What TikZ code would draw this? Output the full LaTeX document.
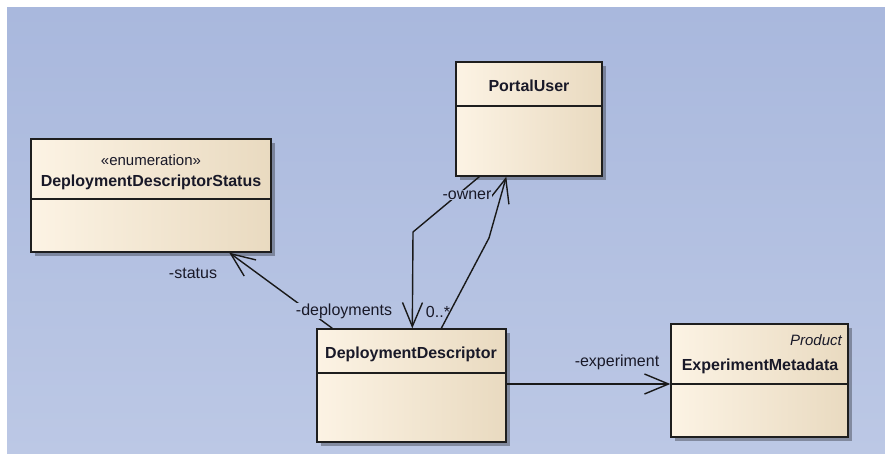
\documentclass[tikz,border=0pt]{standalone}
\usepackage{fontspec}
\setmainfont{Liberation Sans}
\usetikzlibrary{arrows.meta,shadows,calc}
\definecolor{bgtop}{RGB}{169,184,221}
\definecolor{bgbot}{RGB}{188,200,229}
\definecolor{boxl}{RGB}{252,243,228}
\definecolor{boxr}{RGB}{233,218,192}
\definecolor{boxline}{RGB}{30,30,30}
\definecolor{conn}{RGB}{25,25,25}
\definecolor{txt}{RGB}{25,25,40}
\definecolor{bgmidA}{RGB}{182,195,226}
\definecolor{bgmidB}{RGB}{177,191,224}
\tikzset{
  cls/.style={draw=boxline, line width=1.4pt, rectangle, left color=boxl, right color=boxr,
    drop shadow={shadow xshift=4pt, shadow yshift=-4pt, opacity=0.3, fill=black}, inner sep=0pt},
  divider/.style={draw=boxline, line width=1.4pt},
  cname/.style={font=\fontsize{16}{19}\selectfont\bfseries, text=txt, inner sep=0pt},
  stereo/.style={font=\fontsize{15}{18}\selectfont, text=txt, inner sep=0pt},
  role/.style={font=\fontsize{16}{19}\selectfont, text=txt, inner sep=1pt},
  assoc/.style={draw=conn, line width=1.4pt, -{Straight Barb[length=24pt,width=20pt]}},
}
\begin{document}
\begin{tikzpicture}[x=1pt,y=-1pt]
\useasboundingbox (0,0) rectangle (885,454);
\fill[white] (0,0) rectangle (885,454);
\shade[top color=bgtop, bottom color=bgbot] (7,8) rectangle (885,454);

% classes
\node[cls, minimum width=146pt, minimum height=114pt] (pu) at (529,119) {};
\node[cls, minimum width=240pt, minimum height=113pt] (dds) at (151,195.5) {};
\node[cls, minimum width=189pt, minimum height=113pt] (dd) at (411.5,385.5) {};
\node[cls, minimum width=177pt, minimum height=113pt] (em) at (759.5,380.5) {};

\coordinate (ypu) at (0,106);
\coordinate (ydds) at (0,199);
\coordinate (ydd) at (0,373);
\coordinate (yem) at (0,384);
\draw[divider] (pu.west |- ypu) -- (pu.east |- ypu);
\draw[divider] (dds.west |- ydds) -- (dds.east |- ydds);
\draw[divider] (dd.west |- ydd) -- (dd.east |- ydd);
\draw[divider] (em.west |- yem) -- (em.east |- yem);

\node[cname] (puname) at (529,86) {PortalUser};
\node[stereo] (ddsst) at (151,160) {«enumeration»};
\node[cname] (ddsname) at (151,182) {DeploymentDescriptorStatus};
\node[cname] (ddname) at (411,354) {DeploymentDescriptor};
\node[stereo, font=\fontsize{15}{18}\selectfont\itshape, anchor=east] (emst) at (842,340) {Product};
\node[cname] (emname) at (760,366) {ExperimentMetadata};

% connectors
\draw[assoc] ($(dd.north west)+(16,0)$) -- ($(dds.south west)+(199,0)$);
\coordinate (bendA) at (413,232);
\draw[assoc] ($(pu.south west)+(24,0)$) -- (bendA) -- ($(dd.north west)+(96,0)$);
\coordinate (bendB) at (489,238);
\draw[assoc] ($(dd.north west)+(125,0)$) -- (bendB) -- ($(pu.south west)+(51,0)$);
\draw[assoc] (dd.east |- yem) -- (em.west |- yem);

% role labels
\node[role] (lstatus) at (193,273) {-status};
\node[role, fill=bgmidA] (ldep) at (344,311) {-deployments};
\node[role, fill=bgmidB] (lowner) at (467,195) {-owner};
\node[role] (lmult) at (438,312) {0..*};
\node[role] (lexp) at (617,362) {-experiment};
\end{tikzpicture}
\end{document}
